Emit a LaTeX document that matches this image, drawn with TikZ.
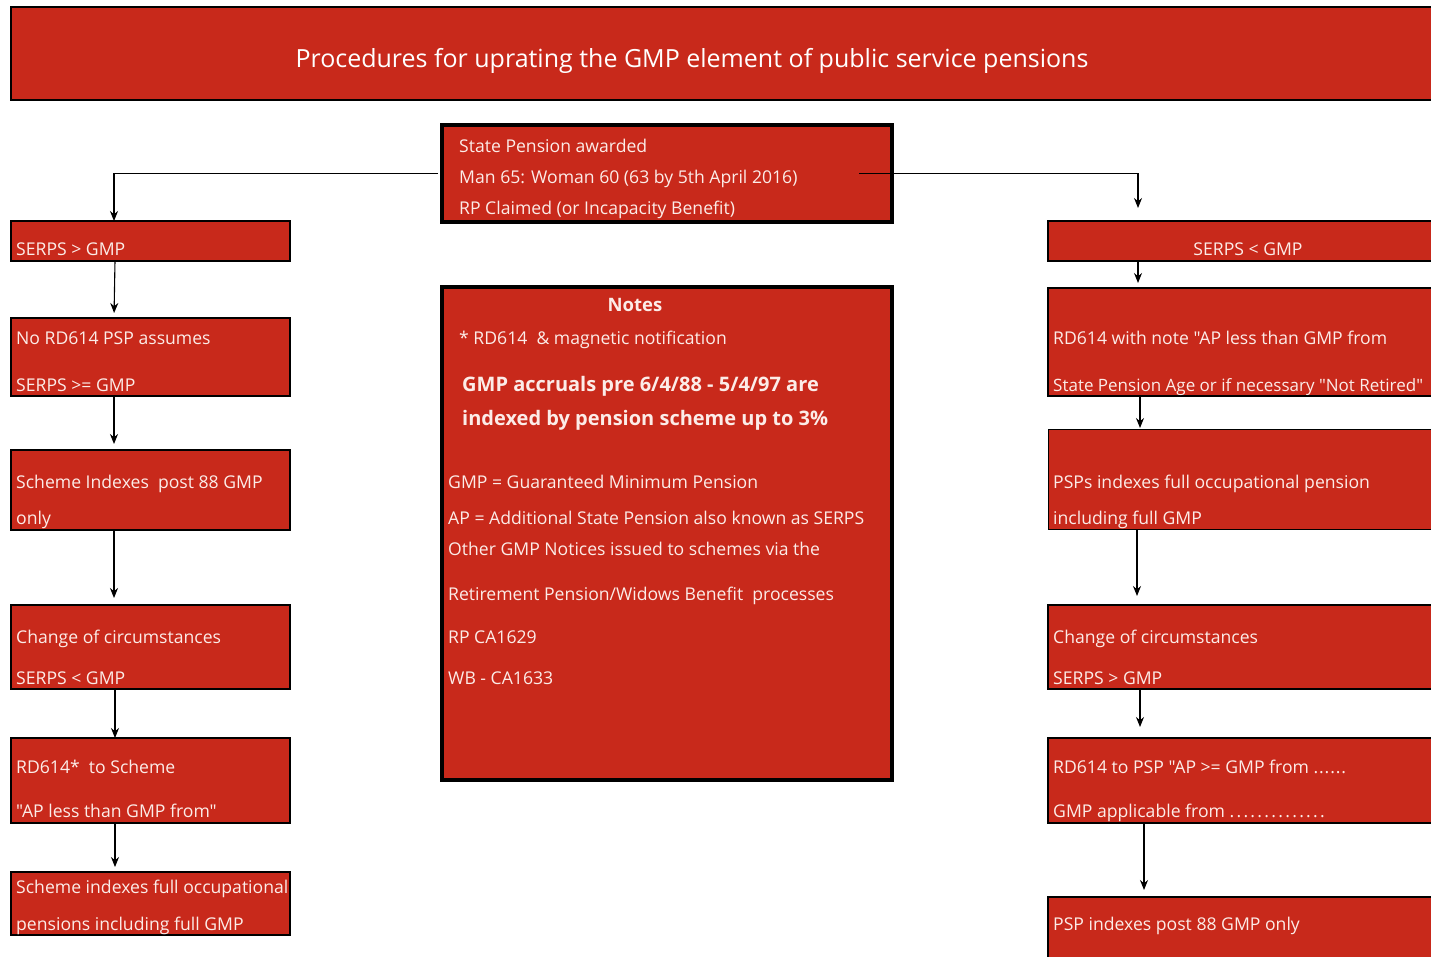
\documentclass[tikz,border=0pt]{standalone}
\usepackage{fontspec}
\setmainfont{Open Sans}[Ligatures=TeXOff]
\usetikzlibrary{arrows.meta}
\definecolor{boxred}{RGB}{200,41,27}
\definecolor{txtc}{RGB}{252,236,232}
\begin{document}
\begin{tikzpicture}[x=1pt,y=-1pt,
  box/.style={draw=black, line width=2pt, fill=boxred, anchor=north west, inner sep=0pt, outer sep=0pt},
  bigbox/.style={box, line width=4pt},
  t/.style={anchor=base west, inner sep=0pt, text=txtc, font=\fontsize{17.6}{20}\selectfont},
  tb/.style={t, font=\fontsize{20}{22}\bfseries\selectfont},
  tn/.style={t, anchor=base, font=\fontsize{18.5}{20}\bfseries\selectfont},
  tt/.style={anchor=base, inner sep=0pt, text=white, font=\fontsize{25}{28}\selectfont},
  arr/.style={-{Stealth[length=10pt,width=8pt]}, line width=1.1pt, black, shorten >=#1},
  arr/.default=5pt]
\useasboundingbox (0,0) rectangle (1431,957);
\clip (0,0) rectangle (1431,957);
\fill[white] (0,0) rectangle (1431,957);

% title
\node[box, minimum width=1440pt, minimum height=93pt] (title) at (11,7) {};
\node[tt] (titletxt) at (692,68) {Procedures for uprating the GMP element of public service pensions};

% top centre box
\node[bigbox, minimum width=450pt, minimum height=97pt] (top) at (442,125) {};
\node[t] (top1) at (459,153) {State Pension awarded};
\node[t] (top2) at (459,184) {Man 65: Woman 60 (63 by 5th April 2016)};
\node[t] (top3) at (459,215) {RP Claimed (or Incapacity Benefit)};

% notes box
\node[bigbox, minimum width=450pt, minimum height=493pt] (notes) at (442,287) {};
\node[tn] (n0) at (635,312) {Notes};
\node[t] (n1) at (459,344) {* RD614\ \ \& magnetic notification};
\node[tb] (n2) at (462,391) {GMP accruals pre 6/4/88 - 5/4/97 are};
\node[tb] (n3) at (462,425) {indexed by pension scheme up to 3\%};
\node[t] (n4) at (448,488) {GMP = Guaranteed Minimum Pension};
\node[t] (n5) at (448,524) {AP = Additional State Pension also known as SERPS};
\node[t] (n6) at (448,555) {Other GMP Notices issued to schemes via the};
\node[t] (n7) at (448,600) {Retirement Pension/Widows Benefit\ \ processes};
\node[t] (n8) at (448,643) {RP CA1629};
\node[t] (n9) at (448,684) {WB - CA1633};

% left column
\node[box, minimum width=279pt, minimum height=40pt] (l1) at (11,221) {};
\node[t] (l1a) at (16,256) {SERPS > GMP};
\node[box, minimum width=279pt, minimum height=78pt] (l2) at (11,318) {};
\node[t] (l2a) at (16,344) {No RD614 PSP assumes};
\node[t] (l2b) at (16,391) {SERPS >= GMP};
\node[box, minimum width=279pt, minimum height=80pt] (l3) at (11,450) {};
\node[t] (l3a) at (16,488) {Scheme Indexes\ \ post 88 GMP};
\node[t] (l3b) at (16,524) {only};
\node[box, minimum width=279pt, minimum height=84pt] (l4) at (11,605) {};
\node[t] (l4a) at (16,643) {Change of circumstances};
\node[t] (l4b) at (16,684) {SERPS < GMP};
\node[box, minimum width=279pt, minimum height=85pt] (l5) at (11,738) {};
\node[t] (l5a) at (16,773) {RD614*\ \ to Scheme};
\node[t] (l5b) at (16,817) {"AP less than GMP from"};
\node[box, minimum width=279pt, minimum height=63pt] (l6) at (11,872) {};
\node[t] (l6a) at (16,893) {Scheme indexes full occupational};
\node[t] (l6b) at (16,930) {pensions including full GMP};

% right column
\node[box, minimum width=400pt, minimum height=40pt] (r1) at (1048,221) {};
\node[t, anchor=base] (r1a) at (1248,256) {SERPS < GMP};
\node[box, minimum width=400pt, minimum height=108pt] (r2) at (1048,288) {};
\node[t] (r2a) at (1053,344) {RD614 with note "AP less than GMP from};
\node[t, font=\fontsize{17}{20}\selectfont] (r2b) at (1053,391) {State Pension Age or if necessary "Not Retired"};
\node[box, line width=1pt, minimum width=400pt, minimum height=100pt] (r3) at (1048,429) {};
\node[t] (r3a) at (1053,488) {PSPs indexes full occupational pension};
\node[t] (r3b) at (1053,524) {including full GMP};
\node[box, minimum width=400pt, minimum height=84pt] (r4) at (1048,605) {};
\node[t] (r4a) at (1053,643) {Change of circumstances};
\node[t] (r4b) at (1053,684) {SERPS > GMP};
\node[box, minimum width=400pt, minimum height=85pt] (r5) at (1048,738) {};
\node[t] (r5a) at (1053,773) {RD614 to PSP "AP >= GMP from {\addfontfeature{LetterSpace=5}......}};
\node[t] (r5b) at (1053,817) {GMP applicable from {\addfontfeature{LetterSpace=13}..............}};
\node[box, minimum width=400pt, minimum height=80pt] (r6) at (1048,897) {};
\node[t] (r6a) at (1053,930) {PSP indexes post 88 GMP only};

% connectors
\draw[arr=0pt] ([xshift=-4pt]top.west) -| (l1.north -| 114,0);
\draw[arr=13pt] ([xshift=-33pt]top.east) -| (r1.north -| 1138,0);

\draw[arr] (l1.south -| 115,0) -- (l2.north -| 114,0);
\draw[arr=6pt] (l2.south -| 114,0) -- (l3.north -| 114,0);
\draw[arr=7pt] (l3.south -| 114,0) -- (l4.north -| 114,0);
\draw[arr=0pt] (l4.south -| 115,0) -- (l5.north -| 115,0);
\draw[arr] (l5.south -| 115,0) -- (l6.north -| 115,0);

\draw[arr] (r1.south -| 1138,0) -- (r2.north -| 1138,0);
\draw[arr=1pt] (r2.south -| 1140,0) -- (r3.north -| 1140,0);
\draw[arr=9pt] (r3.south -| 1137,0) -- (r4.north -| 1137,0);
\draw[arr=11pt] (r4.south -| 1140,0) -- (r5.north -| 1140,0);
\draw[arr=7pt] (r5.south -| 1144,0) -- (r6.north -| 1144,0);
\end{tikzpicture}
\end{document}
